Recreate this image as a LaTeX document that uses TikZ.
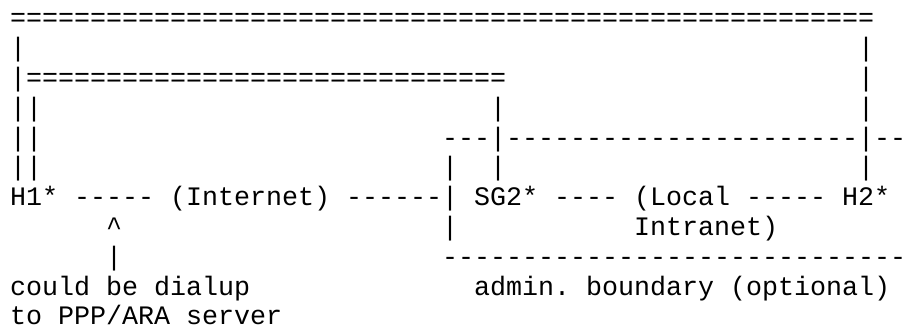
\documentclass[tikz,border=0pt]{standalone}
\usepackage{fontspec}
\setmonofont{Liberation Mono}
\begin{document}
\begin{tikzpicture}[x=1pt,y=1pt,
  txt/.style={anchor=base west,inner sep=0pt,outer sep=0pt,
    font=\ttfamily\fontsize{26.67}{30}\selectfont}]
\frenchspacing
\useasboundingbox (0,0) rectangle (909,331);
\newcommand\ascseg[4]{\node[txt] (#1) at ({10+16*#2},{304-29.8*#3}) {#4};}
% row 0
\ascseg{outertop}{0}{0}{======================================================}
% row 1
\ascseg{r1a}{0}{1}{|}
\ascseg{r1b}{53}{1}{|}
% row 2
\ascseg{innertop}{0}{2}{|==============================}
\ascseg{r2b}{53}{2}{|}
% row 3
\ascseg{r3a}{0}{3}{||}
\ascseg{r3b}{30}{3}{|}
\ascseg{r3c}{53}{3}{|}
% row 4
\ascseg{r4a}{0}{4}{||}
\ascseg{r4b}{27}{4}{---|----------------------|--}
% row 5
\ascseg{r5a}{0}{5}{||}
\ascseg{r5b}{27}{5}{|}
\ascseg{r5c}{30}{5}{|}
\ascseg{r5d}{53}{5}{|}
% row 6
\ascseg{h1}{0}{6}{H1*}
\ascseg{l1}{4}{6}{-----}
\ascseg{inet}{10}{6}{(Internet)}
\ascseg{l2}{21}{6}{------|}
\ascseg{sg2}{29}{6}{SG2*}
\ascseg{l3}{34}{6}{----}
\ascseg{local}{39}{6}{(Local}
\ascseg{l4}{46}{6}{-----}
\ascseg{h2}{52}{6}{H2*}
% row 7
\ascseg{caret}{6}{7}{\textasciicircum}
\ascseg{r7b}{27}{7}{|}
\ascseg{intranet}{39}{7}{Intranet)}
% row 8
\ascseg{r8a}{6}{8}{|}
\ascseg{boundary}{27}{8}{-----------------------------}
% row 9
\ascseg{note1}{0}{9}{could be dialup}
\ascseg{admin}{29}{9}{admin. boundary (optional)}
% row 10
\ascseg{note2}{0}{10}{to PPP/ARA server}
\end{tikzpicture}
\end{document}
